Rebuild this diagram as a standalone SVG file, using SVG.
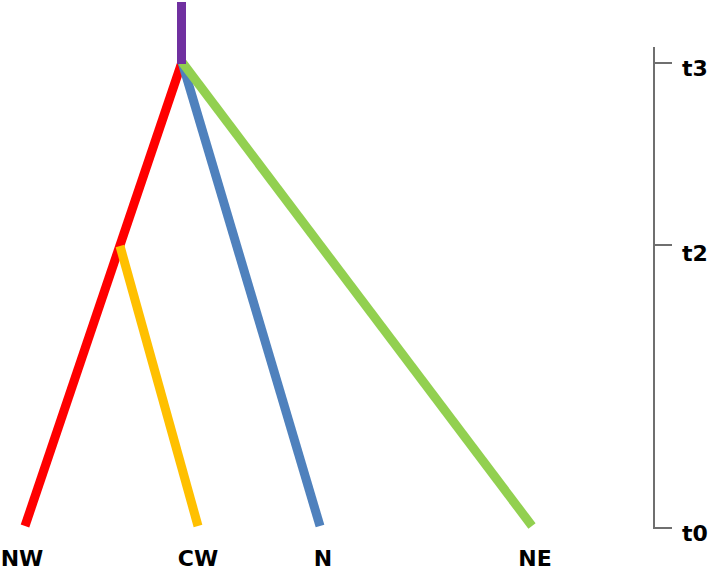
<svg xmlns="http://www.w3.org/2000/svg" width="709" height="570" viewBox="0 0 709 570">
<style>
.br{fill:none;stroke-width:9;stroke-linecap:butt}
.ax{fill:none;stroke:#6f6f6f;stroke-width:2}
.lb{font-family:"DejaVu Sans",Verdana,sans-serif;font-weight:bold;font-size:22px;fill:#000}
</style>
<rect width="709" height="570" fill="#fff"/>
<g id="connectors">
<line id="nw" class="br" stroke="#FF0000" x1="182" y1="62" x2="25" y2="526"/>
<line id="cw" class="br" stroke="#FFC000" x1="120" y1="246" x2="198" y2="526"/>
<line id="n" class="br" stroke="#4F81BD" x1="182" y1="62" x2="320" y2="526"/>
<line id="ne" class="br" stroke="#92D050" x1="182" y1="62" x2="532" y2="526"/>
<line id="root" class="br" stroke="#7030A0" x1="181.5" y1="2" x2="181.5" y2="64"/>
</g>
<g id="axis">
<line class="ax" x1="654" y1="47" x2="654" y2="529"/>
<line class="ax" x1="654" y1="63" x2="672" y2="63"/>
<line class="ax" x1="654" y1="245" x2="672" y2="245"/>
<line class="ax" x1="653" y1="528" x2="672" y2="528"/>
<text class="lb" x="682" y="76">t3</text>
<text class="lb" x="682" y="261">t2</text>
<text class="lb" x="682" y="541">t0</text>
</g>
<g id="labels">
<text class="lb" x="22" y="566" text-anchor="middle">NW</text>
<text class="lb" x="198" y="566" text-anchor="middle">CW</text>
<text class="lb" x="323" y="566" text-anchor="middle">N</text>
<text class="lb" x="535" y="566" text-anchor="middle">NE</text>
</g>
</svg>
